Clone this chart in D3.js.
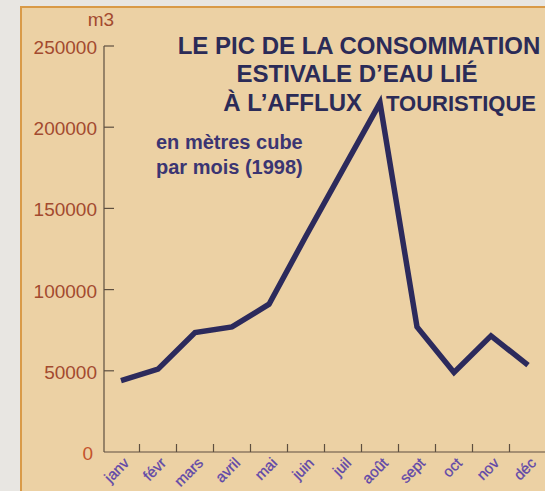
<!DOCTYPE html>
<html lang="fr">
<head>
<meta charset="UTF-8">
<title>Consommation d'eau 1998</title>
<script src="https://d3js.org/d3.v7.min.js"></script>
<style>
  html, body { margin: 0; padding: 0; background: #e8e6e2; }
  svg { display: block; font-family: "Liberation Sans", Arial, sans-serif; }
</style>
</head>
<body>
<script>
// donnees (m3 par mois, 1998)
var mois = ["janv", "févr", "mars", "avril", "mai", "juin", "juil", "août", "sept", "oct", "nov", "déc"];
var consommation = [44000, 51000, 73500, 77000, 91000, 133000, 174000, 215000, 77000, 49000, 71500, 53500];
var yTicks = [0, 50000, 100000, 150000, 200000, 250000];

var W = 545, H = 491;

var svg = d3.select("body").append("svg")
    .attr("width", W)
    .attr("height", H);

// fond: page + cadre beige
svg.append("rect")
    .attr("x", 0).attr("y", 0)
    .attr("width", W).attr("height", H)
    .attr("fill", "#e8e6e2");
svg.append("rect")
    .attr("x", 21).attr("y", 7)
    .attr("width", W - 21).attr("height", H - 7)
    .attr("fill", "#ecd1a4");
svg.append("path")
    .attr("d", "M21," + H + "V7H" + W)
    .attr("fill", "none")
    .attr("stroke", "#d99a48")
    .attr("stroke-width", 2);

// echelles
var x = d3.scaleBand()
    .domain(mois)
    .range([102.5, 546.5])
    .padding(0);

var y = d3.scaleLinear()
    .domain([0, 250000])
    .range([452, 46]);

var axisColor = "#5e4f40";

// axe vertical
svg.append("line")
    .attr("x1", 104).attr("x2", 104)
    .attr("y1", y(250000)).attr("y2", y(0))
    .attr("stroke", axisColor).attr("stroke-width", 1.2);

svg.selectAll(".ytick")
    .data(yTicks.filter(function(d){ return d > 0; }))
    .enter()
    .append("line")
    .attr("x1", 104).attr("x2", 114)
    .attr("y1", function(d){ return y(d); })
    .attr("y2", function(d){ return y(d); })
    .attr("stroke", axisColor).attr("stroke-width", 1.2);

svg.selectAll(".ylabel")
    .data(yTicks)
    .enter()
    .append("text")
    .attr("x", function(d){ return d === 0 ? 93 : 97; })
    .attr("y", function(d){ return y(d) + 8; })
    .attr("text-anchor", "end")
    .attr("font-size", 19)
    .attr("fill", function(d){ return d === 0 ? "#c4532c" : "#a34a2f"; })
    .text(function(d){ return d; });

svg.append("text")
    .attr("x", 101).attr("y", 26)
    .attr("text-anchor", "middle")
    .attr("font-size", 19)
    .attr("fill", "#a34a2f")
    .text("m3");

// axe horizontal
svg.append("line")
    .attr("x1", 104).attr("x2", W)
    .attr("y1", y(0)).attr("y2", y(0))
    .attr("stroke", axisColor).attr("stroke-width", 1.2);

// petits traits entre les mois
svg.selectAll(".xtick")
    .data(mois.slice(1))
    .enter()
    .append("line")
    .attr("x1", function(d){ return x(d); })
    .attr("x2", function(d){ return x(d); })
    .attr("y1", y(0)).attr("y2", y(0) - 8)
    .attr("stroke", axisColor).attr("stroke-width", 1.2);

svg.selectAll(".xlabel")
    .data(mois)
    .enter()
    .append("text")
    .attr("transform", function(d){
        var cx = x(d) + x.bandwidth() / 2;
        return "translate(" + (cx + 9) + "," + 464 + ") rotate(-45)";
    })
    .attr("text-anchor", "end")
    .attr("font-size", 15)
    .attr("fill", "#5f47a8")
    .attr("stroke", "#5f47a8")
    .attr("stroke-width", 0.3)
    .text(function(d){ return d; });

// courbe
var line = d3.line()
    .x(function(d, i){ return x(mois[i]) + x.bandwidth() / 2; })
    .y(function(d){ return y(d); });

svg.append("path")
    .datum(consommation)
    .attr("d", line)
    .attr("fill", "none")
    .attr("stroke", "#2c2a5c")
    .attr("stroke-width", 5.5)
    .attr("stroke-linejoin", "miter")
    .attr("stroke-linecap", "butt");

// titre
var titleColor = "#2b2b57";
var title = svg.append("g")
    .attr("font-size", 24)
    .attr("font-weight", "bold")
    .attr("fill", titleColor);

title.append("text")
    .attr("x", 359).attr("y", 54)
    .attr("text-anchor", "middle")
    .text("LE PIC DE LA CONSOMMATION");
title.append("text")
    .attr("x", 357).attr("y", 82)
    .attr("text-anchor", "middle")
    .text("ESTIVALE D’EAU LIÉ");
title.append("text")
    .attr("x", 362).attr("y", 111)
    .attr("text-anchor", "end")
    .text("À L’AFFLUX");
title.append("text")
    .attr("x", 386).attr("y", 111)
    .attr("font-size", 22)
    .text("TOURISTIQUE");

// sous-titre
var sub = svg.append("g")
    .attr("font-size", 20)
    .attr("font-weight", "bold")
    .attr("fill", "#3b3572");
sub.append("text").attr("x", 156).attr("y", 149).text("en mètres cube");
sub.append("text").attr("x", 156).attr("y", 174).text("par mois (1998)");
</script>
</body>
</html>
